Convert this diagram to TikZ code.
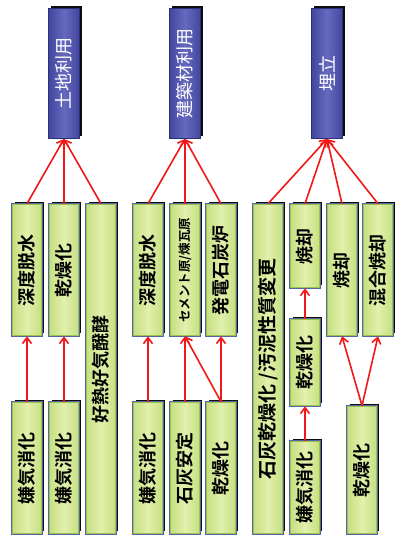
\documentclass[tikz,border=0pt]{standalone}
\usepackage{fontspec}
\usepackage{graphicx}
\newfontfamily\jp{Noto Sans CJK JP}[BoldFont={Noto Sans CJK JP Bold}]
\usetikzlibrary{arrows.meta,shadows}
\definecolor{gedge}{HTML}{5466A6}
\definecolor{gline}{HTML}{9CC24E}
\definecolor{gside}{HTML}{C6DF82}
\definecolor{gmid}{HTML}{E2F0AC}
\definecolor{bedge}{HTML}{2C3078}
\definecolor{bside}{HTML}{42469E}
\definecolor{bmid}{HTML}{666ABE}
\definecolor{arrred}{HTML}{F01818}
\begin{document}
\begin{tikzpicture}[x=1pt,y=-1pt,
  gbox/.style={rectangle, inner sep=0pt, minimum width=29pt,
    drop shadow={shadow xshift=2.5pt, shadow yshift=2.5pt, fill=black, opacity=0.95},
    preaction={draw=gedge, line width=2.8pt},
    left color=gside, right color=gside, middle color=gmid,
    draw=gline, line width=1.6pt,
    font=\jp\bfseries\fontsize{18}{18}\selectfont},
  bbox/.style={rectangle, inner sep=0pt, minimum width=31pt, minimum height=130pt,
    drop shadow={shadow xshift=2.5pt, shadow yshift=2.5pt, fill=black, opacity=0.95},
    left color=bside, right color=bside, middle color=bmid,
    draw=bedge, line width=1pt, text=white,
    font=\jp\fontsize{18}{18}\selectfont},
  arr/.style={draw=arrred, line width=1.6pt, -{Straight Barb[length=6pt,width=9pt]}}
]
\useasboundingbox (0,0) rectangle (395,547);
\fill[white] (0,0) rectangle (395,547);

% top blue boxes
\node[bbox] (U1) at (64,73.5) {\rotatebox{90}{土地利用}};
\node[bbox] (U2) at (185,73.5) {\rotatebox{90}{建築材利用}};
\node[bbox] (U3) at (327,73.5) {\rotatebox{90}{埋立}};

% upper green boxes
\node[gbox, minimum height=131pt] (A) at (27,270) {\rotatebox{90}{深度脱水}};
\node[gbox, minimum height=131pt] (B) at (64,270) {\rotatebox{90}{乾燥化}};
\node[gbox, minimum height=329pt] (C) at (101,369) {\rotatebox{90}{好熱好気醗酵}};
\node[gbox, minimum height=131pt] (D) at (148,270) {\rotatebox{90}{深度脱水}};
\node[gbox, minimum height=131pt, font=\jp\bfseries\fontsize{12.5}{12.5}\selectfont] (E) at (185,270) {\rotatebox{90}{セメント原/煉瓦原}};
\node[gbox, minimum height=131pt] (F) at (221,270) {\rotatebox{90}{発電石炭炉}};
\node[gbox, minimum height=329pt, font=\jp\bfseries\fontsize{19}{19}\selectfont] (G) at (268,369) {\rotatebox{90}{石灰乾燥化 /汚泥性質変更}};
\node[gbox, minimum height=83pt] (H) at (305,246) {\rotatebox{90}{焼却}};
\node[gbox, minimum height=131pt] (I) at (342,270) {\rotatebox{90}{焼却}};
\node[gbox, minimum height=131pt] (J) at (378,270) {\rotatebox{90}{混合焼却}};

% lower green boxes
\node[gbox, minimum height=131pt] (K) at (27,468) {\rotatebox{90}{嫌気消化}};
\node[gbox, minimum height=131pt] (L) at (64,468) {\rotatebox{90}{嫌気消化}};
\node[gbox, minimum height=131pt] (M) at (148,468) {\rotatebox{90}{嫌気消化}};
\node[gbox, minimum height=131pt] (N) at (185,468) {\rotatebox{90}{石灰安定}};
\node[gbox, minimum height=131pt] (O) at (221,468) {\rotatebox{90}{乾燥化}};
\node[gbox, minimum height=86pt] (Q) at (305,362.5) {\rotatebox{90}{乾燥化}};
\node[gbox, minimum height=92pt] (P) at (305,487.5) {\rotatebox{90}{嫌気消化}};
\node[gbox, minimum height=127pt] (R) at (362,470) {\rotatebox{90}{乾燥化}};

% arrows to top boxes
\foreach \s in {A,B,C} \draw[arr] (\s.north) -- (U1.south);
\foreach \s in {D,E,F} \draw[arr] (\s.north) -- (U2.south);
\foreach \s in {G,H,I,J} \draw[arr] (\s.north) -- (U3.south);

% lower arrows
\draw[arr] (K.north) -- (A.south);
\draw[arr] (L.north) -- (B.south);
\draw[arr] (M.north) -- (D.south);
\draw[arr] (N.north) -- (E.south);
\draw[arr] (O.north) -- (E.south);
\draw[arr] (O.north) -- (F.south);
\draw[arr] (Q.north) -- (H.south);
\draw[arr] (P.north) -- (Q.south);
\draw[arr] (R.north) -- (I.south);
\draw[arr] (R.north) -- (J.south);
\end{tikzpicture}
\end{document}
